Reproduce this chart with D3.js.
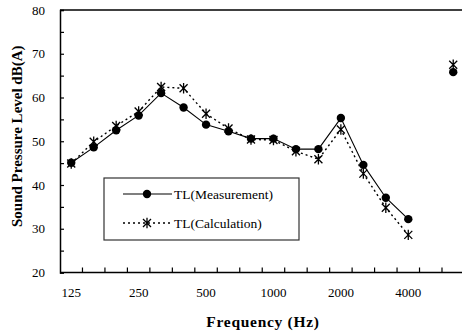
<!DOCTYPE html>
<html>
<head>
<meta charset="utf-8">
<script src="https://cdn.jsdelivr.net/npm/d3@7"></script>
<style>
  body { margin: 0; background: #fff; }
  text { font-family: "Liberation Serif", "Times New Roman", serif; fill: #000; }
  .axisTitle { font-weight: bold; }
</style>
</head>
<body>
<div id="chart"></div>
<script>
// 1/3 octave bands, then an empty slot, then the overall dB(A) value
var bands = ["125", "160", "200", "250", "315", "400", "500", "630", "800",
  "1000", "1250", "1600", "2000", "2500", "3150", "4000", "gap", "overall"];
var tickLabels = ["125", "", "", "250", "", "", "500", "", "", "1000", "", "",
  "2000", "", "", "4000", "", ""];
var measurement = [45.1, 48.6, 52.5, 55.9, 61.0, 57.7, 53.8, 52.3, 50.6,
  50.6, 48.2, 48.2, 55.3, 44.6, 37.1, 32.2];
var calculation = [44.9, 49.9, 53.5, 56.8, 62.4, 62.1, 56.3, 52.9, 50.4,
  50.3, 47.7, 45.9, 52.7, 42.6, 34.8, 28.6];
var overallMeasurement = 65.8;
var overallCalculation = 67.5;
var yTicks = [20, 30, 40, 50, 60, 70, 80];

var W = 462, H = 334;
var margin = { top: 10, left: 60 };
var bandW = 22.47;
var plotH = 262.5;

var svg = d3.select("#chart").append("svg")
  .attr("width", W)
  .attr("height", H);

var x = d3.scaleBand()
  .domain(bands)
  .range([margin.left, margin.left + bands.length * bandW])
  .paddingInner(0).paddingOuter(0);

var y = d3.scaleLinear()
  .domain([20, 80])
  .range([margin.top + plotH, margin.top]);

var cx = function (b) { return x(b) + x.bandwidth() / 2; };

// frame: top and right lines (right one falls just outside the window)
svg.append("line")
  .attr("x1", margin.left).attr("x2", x.range()[1])
  .attr("y1", y(80)).attr("y2", y(80))
  .attr("stroke", "#000").attr("stroke-width", 1.5);
svg.append("line")
  .attr("x1", x.range()[1]).attr("x2", x.range()[1])
  .attr("y1", y(80)).attr("y2", y(20))
  .attr("stroke", "#000").attr("stroke-width", 1.5);

// Y axis with inner ticks every 5
var yAxis = svg.append("g")
  .attr("transform", "translate(" + margin.left + ",0)")
  .call(d3.axisRight(y).tickValues(d3.range(20, 81, 5)).tickSize(4).tickFormat(""));
yAxis.select(".domain").attr("stroke-width", 1.5);
yAxis.selectAll(".tick line").attr("stroke-width", 1.2);

svg.selectAll(".yLabel")
  .data(yTicks)
  .enter().append("text")
  .attr("class", "yLabel")
  .attr("x", margin.left - 15)
  .attr("y", function (d) { return y(d); })
  .attr("dy", "0.35em")
  .style("text-anchor", "end")
  .style("font-size", "13px")
  .text(function (d) { return d; });

// X axis: ticks on band boundaries
var xAxis = svg.append("g")
  .attr("transform", "translate(0," + y(20) + ")");
xAxis.append("line")
  .attr("x1", margin.left).attr("x2", x.range()[1])
  .attr("stroke", "#000").attr("stroke-width", 1.5);
xAxis.selectAll(".xtick")
  .data(bands.slice(1))
  .enter().append("line")
  .attr("class", "xtick")
  .attr("x1", function (d) { return x(d); })
  .attr("x2", function (d) { return x(d); })
  .attr("y1", 0).attr("y2", -5)
  .attr("stroke", "#000").attr("stroke-width", 1.2);
xAxis.selectAll(".xLabel")
  .data(bands)
  .enter().append("text")
  .attr("class", "xLabel")
  .attr("x", function (d) { return cx(d); })
  .attr("y", 24)
  .style("text-anchor", "middle")
  .style("font-size", "13px")
  .text(function (d, i) { return tickLabels[i]; });

// axis titles
svg.append("text")
  .attr("class", "axisTitle")
  .attr("x", 263)
  .attr("y", 327)
  .style("text-anchor", "middle")
  .style("font-size", "15.5px")
  .style("letter-spacing", "0.7px")
  .text("Frequency (Hz)");

svg.append("text")
  .attr("class", "axisTitle")
  .attr("transform", "translate(22," + (margin.top + plotH / 2 - 5) + ") rotate(-90)")
  .style("text-anchor", "middle")
  .style("font-size", "15px")
  .text("Sound Pressure Level dB(A)");

// lines
var line = d3.line()
  .x(function (d, i) { return cx(bands[i]); })
  .y(function (d) { return y(d); });

svg.append("path")
  .datum(calculation)
  .attr("d", line)
  .attr("fill", "none")
  .attr("stroke", "#000")
  .attr("stroke-width", 1.4)
  .attr("stroke-dasharray", "2,3");

svg.append("path")
  .datum(measurement)
  .attr("d", line)
  .attr("fill", "none")
  .attr("stroke", "#000")
  .attr("stroke-width", 1.1);

// asterisk marker (x + vertical bar)
function star(s) {
  return "M" + (-s) + "," + (-s) + "L" + s + "," + s +
    "M" + (-s) + "," + s + "L" + s + "," + (-s) +
    "M0," + (-s * 1.3) + "L0," + (s * 1.3);
}

var calcPts = calculation.map(function (d, i) { return { b: bands[i], v: d }; })
  .concat([{ b: "overall", v: overallCalculation }]);
var measPts = measurement.map(function (d, i) { return { b: bands[i], v: d }; })
  .concat([{ b: "overall", v: overallMeasurement }]);

svg.selectAll(".calcDot")
  .data(calcPts)
  .enter().append("path")
  .attr("class", "calcDot")
  .attr("transform", function (d) { return "translate(" + cx(d.b) + "," + y(d.v) + ")"; })
  .attr("d", star(4))
  .attr("stroke", "#000")
  .attr("stroke-width", 1.3)
  .attr("fill", "none");

svg.selectAll(".measDot")
  .data(measPts)
  .enter().append("circle")
  .attr("class", "measDot")
  .attr("cx", function (d) { return cx(d.b); })
  .attr("cy", function (d) { return y(d.v); })
  .attr("r", 4.2)
  .attr("fill", "#000");

// legend
var legend = svg.append("g")
  .attr("transform", "translate(104,178)");
legend.append("rect")
  .attr("width", 195).attr("height", 62)
  .attr("fill", "#fff")
  .attr("stroke", "#333").attr("stroke-width", 1.2);

legend.append("line")
  .attr("x1", 19).attr("x2", 68).attr("y1", 16).attr("y2", 16)
  .attr("stroke", "#000").attr("stroke-width", 1.1);
legend.append("circle")
  .attr("cx", 43).attr("cy", 16).attr("r", 4.2).attr("fill", "#000");
legend.append("text")
  .attr("x", 70).attr("y", 16).attr("dy", "0.35em")
  .style("font-size", "13.5px")
  .text("TL(Measurement)");

legend.append("line")
  .attr("x1", 19).attr("x2", 68).attr("y1", 45).attr("y2", 45)
  .attr("stroke", "#000").attr("stroke-width", 1.4)
  .attr("stroke-dasharray", "2,3");
legend.append("path")
  .attr("transform", "translate(43,45)")
  .attr("d", star(4))
  .attr("stroke", "#000").attr("stroke-width", 1.3).attr("fill", "none");
legend.append("text")
  .attr("x", 70).attr("y", 45).attr("dy", "0.35em")
  .style("font-size", "13.5px")
  .text("TL(Calculation)");
</script>
</body>
</html>
